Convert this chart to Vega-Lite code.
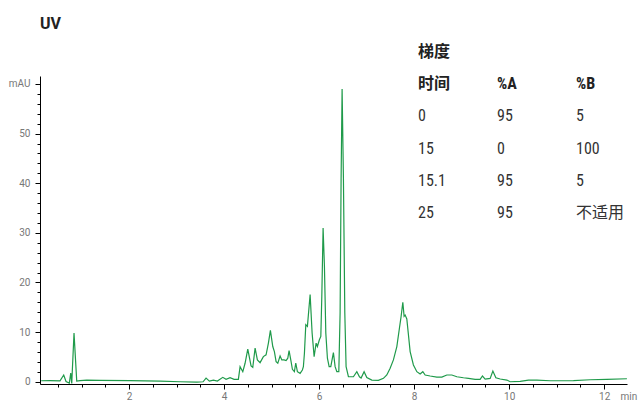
{
  "$schema": "https://vega.github.io/schema/vega-lite/v6.json",
  "autosize": {"type": "none"},
  "width": 587,
  "height": 308,
  "padding": {"left": 40, "top": 76, "right": 13, "bottom": 18},
  "background": "white",
  "config": {"view": {"stroke": null}, "font": "Roboto"},
  "title": {"text": "UV", "anchor": "start", "frame": "group", "fontSize": 16, "fontWeight": "bold", "font": "Roboto", "color": "#222222", "offset": 12},
  "datasets": {
    "trace": [
      {"t": 0.15, "v": 0.2}, {"t": 0.337, "v": 0.24}, {"t": 0.547, "v": 0.2}, {"t": 0.625, "v": 1.36}, {"t": 0.674, "v": 0.04},
      {"t": 0.743, "v": -0.26}, {"t": 0.773, "v": 1.76}, {"t": 0.794, "v": -0.32}, {"t": 0.842, "v": 9.8}, {"t": 0.899, "v": 0.14},
      {"t": 0.968, "v": 0.24}, {"t": 1.109, "v": 0.34}, {"t": 1.389, "v": 0.28}, {"t": 2.021, "v": 0.24}, {"t": 2.653, "v": 0.14},
      {"t": 3.074, "v": 0.0}, {"t": 3.425, "v": -0.06}, {"t": 3.558, "v": 0.0}, {"t": 3.621, "v": 0.75}, {"t": 3.691, "v": 0.14},
      {"t": 3.775, "v": 0.34}, {"t": 3.859, "v": 0.14}, {"t": 3.973, "v": 0.89}, {"t": 4.042, "v": 0.49}, {"t": 4.126, "v": 0.81},
      {"t": 4.211, "v": 0.49}, {"t": 4.301, "v": 0.49}, {"t": 4.337, "v": 3.04}, {"t": 4.394, "v": 2.03}, {"t": 4.442, "v": 3.73},
      {"t": 4.499, "v": 6.57}, {"t": 4.568, "v": 3.18}, {"t": 4.604, "v": 2.92}, {"t": 4.653, "v": 6.77}, {"t": 4.701, "v": 4.4},
      {"t": 4.758, "v": 3.85}, {"t": 4.827, "v": 5.07}, {"t": 4.884, "v": 5.42}, {"t": 4.933, "v": 7.79}, {"t": 4.975, "v": 10.34},
      {"t": 5.025, "v": 7.1}, {"t": 5.059, "v": 6.09}, {"t": 5.095, "v": 4.06}, {"t": 5.131, "v": 3.73}, {"t": 5.179, "v": 5.21},
      {"t": 5.215, "v": 4.4}, {"t": 5.263, "v": 4.4}, {"t": 5.305, "v": 4.26}, {"t": 5.341, "v": 4.75}, {"t": 5.368, "v": 6.29},
      {"t": 5.404, "v": 4.4}, {"t": 5.438, "v": 2.52}, {"t": 5.48, "v": 2.03}, {"t": 5.509, "v": 3.78}, {"t": 5.543, "v": 2.03},
      {"t": 5.6, "v": 1.7}, {"t": 5.648, "v": 2.37}, {"t": 5.669, "v": 3.04}, {"t": 5.691, "v": 5.76}, {"t": 5.72, "v": 11.5},
      {"t": 5.754, "v": 11.16}, {"t": 5.811, "v": 17.59}, {"t": 5.853, "v": 9.82}, {"t": 5.895, "v": 5.07}, {"t": 5.937, "v": 7.79},
      {"t": 5.964, "v": 7.1}, {"t": 6.006, "v": 8.46}, {"t": 6.036, "v": 9.13}, {"t": 6.057, "v": 17.24}, {"t": 6.084, "v": 30.97},
      {"t": 6.112, "v": 23.33}, {"t": 6.141, "v": 9.82}, {"t": 6.175, "v": 4.75}, {"t": 6.211, "v": 3.04}, {"t": 6.246, "v": 3.04},
      {"t": 6.301, "v": 5.88}, {"t": 6.337, "v": 3.04}, {"t": 6.373, "v": 2.03}, {"t": 6.415, "v": 2.03}, {"t": 6.442, "v": 13.87},
      {"t": 6.463, "v": 40.9}, {"t": 6.484, "v": 59.0}, {"t": 6.512, "v": 40.9}, {"t": 6.541, "v": 13.87}, {"t": 6.568, "v": 3.04},
      {"t": 6.617, "v": 1.01}, {"t": 6.722, "v": 1.01}, {"t": 6.794, "v": 2.03}, {"t": 6.849, "v": 1.01}, {"t": 6.884, "v": 0.75},
      {"t": 6.947, "v": 2.03}, {"t": 7.004, "v": 0.85}, {"t": 7.109, "v": 0.34}, {"t": 7.248, "v": 0.28}, {"t": 7.354, "v": 0.69},
      {"t": 7.425, "v": 1.36}, {"t": 7.495, "v": 2.72}, {"t": 7.564, "v": 4.4}, {"t": 7.636, "v": 7.1}, {"t": 7.691, "v": 10.83},
      {"t": 7.726, "v": 13.18}, {"t": 7.762, "v": 16.02}, {"t": 7.789, "v": 13.18}, {"t": 7.811, "v": 13.43}, {"t": 7.846, "v": 12.66},
      {"t": 7.88, "v": 9.47}, {"t": 7.916, "v": 6.09}, {"t": 7.985, "v": 3.39}, {"t": 8.057, "v": 2.03}, {"t": 8.126, "v": 1.56},
      {"t": 8.183, "v": 2.03}, {"t": 8.232, "v": 1.36}, {"t": 8.337, "v": 1.16}, {"t": 8.478, "v": 0.95}, {"t": 8.583, "v": 0.95},
      {"t": 8.688, "v": 1.36}, {"t": 8.794, "v": 1.36}, {"t": 8.899, "v": 1.01}, {"t": 9.038, "v": 0.81}, {"t": 9.143, "v": 0.69},
      {"t": 9.284, "v": 0.49}, {"t": 9.389, "v": 0.49}, {"t": 9.438, "v": 1.16}, {"t": 9.495, "v": 0.55}, {"t": 9.6, "v": 0.69},
      {"t": 9.657, "v": 2.17}, {"t": 9.72, "v": 0.81}, {"t": 9.811, "v": 0.55}, {"t": 9.952, "v": 0.34}, {"t": 10.021, "v": 0.0},
      {"t": 10.232, "v": 0.08}, {"t": 10.406, "v": 0.34}, {"t": 10.583, "v": 0.34}, {"t": 10.863, "v": 0.2}, {"t": 11.354, "v": 0.24},
      {"t": 11.705, "v": 0.41}, {"t": 12.057, "v": 0.49}, {"t": 12.478, "v": 0.61}
    ],
    "table": [
      {"row": "title", "col": "c1", "label": "梯度"},
      {"row": "header", "col": "c1", "label": "时间"},
      {"row": "header", "col": "c2", "label": "%A"},
      {"row": "header", "col": "c3", "label": "%B"},
      {"row": "r1", "col": "c1", "label": "0"},
      {"row": "r1", "col": "c2", "label": "95"},
      {"row": "r1", "col": "c3", "label": "5"},
      {"row": "r2", "col": "c1", "label": "15"},
      {"row": "r2", "col": "c2", "label": "0"},
      {"row": "r2", "col": "c3", "label": "100"},
      {"row": "r3", "col": "c1", "label": "15.1"},
      {"row": "r3", "col": "c2", "label": "95"},
      {"row": "r3", "col": "c3", "label": "5"},
      {"row": "r4", "col": "c1", "label": "25"},
      {"row": "r4", "col": "c2", "label": "95"},
      {"row": "r4", "col": "c3", "label": "不适用"}
    ]
  },
  "resolve": {
    "scale": {"x": "independent", "y": "independent"},
    "axis": {"x": "independent", "y": "independent"}
  },
  "layer": [
    {
      "data": {"name": "trace"},
      "mark": {"type": "line", "color": "#1f9a4a", "strokeWidth": 1.2, "clip": true},
      "encoding": {
        "x": {
          "field": "t", "type": "quantitative",
          "scale": {"domain": [0.126, 12.48], "nice": false, "zero": false},
          "axis": {
            "orient": "bottom", "values": [2, 4, 6, 8, 10, 12], "grid": false,
            "domainColor": "#000000", "domainWidth": 1, "tickColor": "#000000", "tickSize": 5, "tickWidth": 1,
            "labelFontSize": 10, "labelColor": "#777777", "labelPadding": 2, "labelFont": "Roboto",
            "title": "min", "titleFontSize": 10, "titleFontWeight": "normal", "titleColor": "#777777", "titleFont": "Roboto",
            "titleX": 580, "titleY": 12, "titleAlign": "left", "titleBaseline": "middle", "titleAngle": 0
          }
        },
        "y": {
          "field": "v", "type": "quantitative",
          "scale": {"domain": [-0.45, 61.6], "nice": false, "zero": false},
          "axis": {
            "orient": "left", "values": [0, 10, 20, 30, 40, 50, 60], "grid": false,
            "domainColor": "#000000", "domainWidth": 1, "tickColor": "#000000", "tickSize": 5, "tickWidth": 1,
            "labelFontSize": 10, "labelColor": "#777777", "labelPadding": 5, "labelFont": "Roboto",
            "labelExpr": "datum.value == 60 ? 'mAU' : datum.label",
            "title": null
          }
        }
      }
    },
    {
      "data": {"name": "trace"},
      "mark": {"type": "line", "strokeOpacity": 0},
      "encoding": {
        "x": {
          "field": "t", "type": "quantitative",
          "scale": {"domain": [0.126, 12.48], "nice": false, "zero": false},
          "axis": {
            "orient": "bottom", "values": [0.5, 1, 1.5, 2.5, 3, 3.5, 4.5, 5, 5.5, 6.5, 7, 7.5, 8.5, 9, 9.5, 10.5, 11, 11.5, 12.5],
            "grid": false, "domain": false, "labels": false, "title": null,
            "tickColor": "#000000", "tickSize": 3, "tickWidth": 1
          }
        },
        "y": {
          "field": "v", "type": "quantitative",
          "scale": {"domain": [-0.45, 61.6], "nice": false, "zero": false},
          "axis": {
            "orient": "left", "values": [2, 4, 6, 8, 12, 14, 16, 18, 22, 24, 26, 28, 32, 34, 36, 38, 42, 44, 46, 48, 52, 54, 56, 58],
            "grid": false, "domain": false, "labels": false, "title": null,
            "tickColor": "#000000", "tickSize": 3, "tickWidth": 1
          }
        }
      }
    },
    {
      "data": {"name": "table"},
      "transform": [{"filter": "datum.row == 'title' || datum.row == 'header'"}],
      "mark": {"type": "text", "align": "left", "baseline": "middle", "fontSize": 16, "fontWeight": "bold", "color": "#222222",
               "font": "Liberation Sans Narrow, Roboto Condensed, Roboto, Noto Sans CJK SC"},
      "encoding": {
        "x": {"field": "col", "type": "ordinal", "scale": {"type": "point", "domain": ["c1", "c2", "c3"], "range": [378, 536], "padding": 0}, "axis": null},
        "y": {"field": "row", "type": "ordinal", "scale": {"type": "point", "domain": ["title", "header", "r1", "r2", "r3", "r4"], "range": [-24, 137], "padding": 0}, "axis": null},
        "text": {"field": "label"}
      }
    },
    {
      "data": {"name": "table"},
      "transform": [{"filter": "datum.row != 'title' && datum.row != 'header'"}],
      "mark": {"type": "text", "align": "left", "baseline": "middle", "fontSize": 16, "fontWeight": "normal", "color": "#333333",
               "font": "Liberation Sans Narrow, Roboto Condensed, Roboto, Noto Sans CJK SC"},
      "encoding": {
        "x": {"field": "col", "type": "ordinal", "scale": {"type": "point", "domain": ["c1", "c2", "c3"], "range": [378, 536], "padding": 0}, "axis": null},
        "y": {"field": "row", "type": "ordinal", "scale": {"type": "point", "domain": ["title", "header", "r1", "r2", "r3", "r4"], "range": [-24, 137], "padding": 0}, "axis": null},
        "text": {"field": "label"}
      }
    }
  ]
}
